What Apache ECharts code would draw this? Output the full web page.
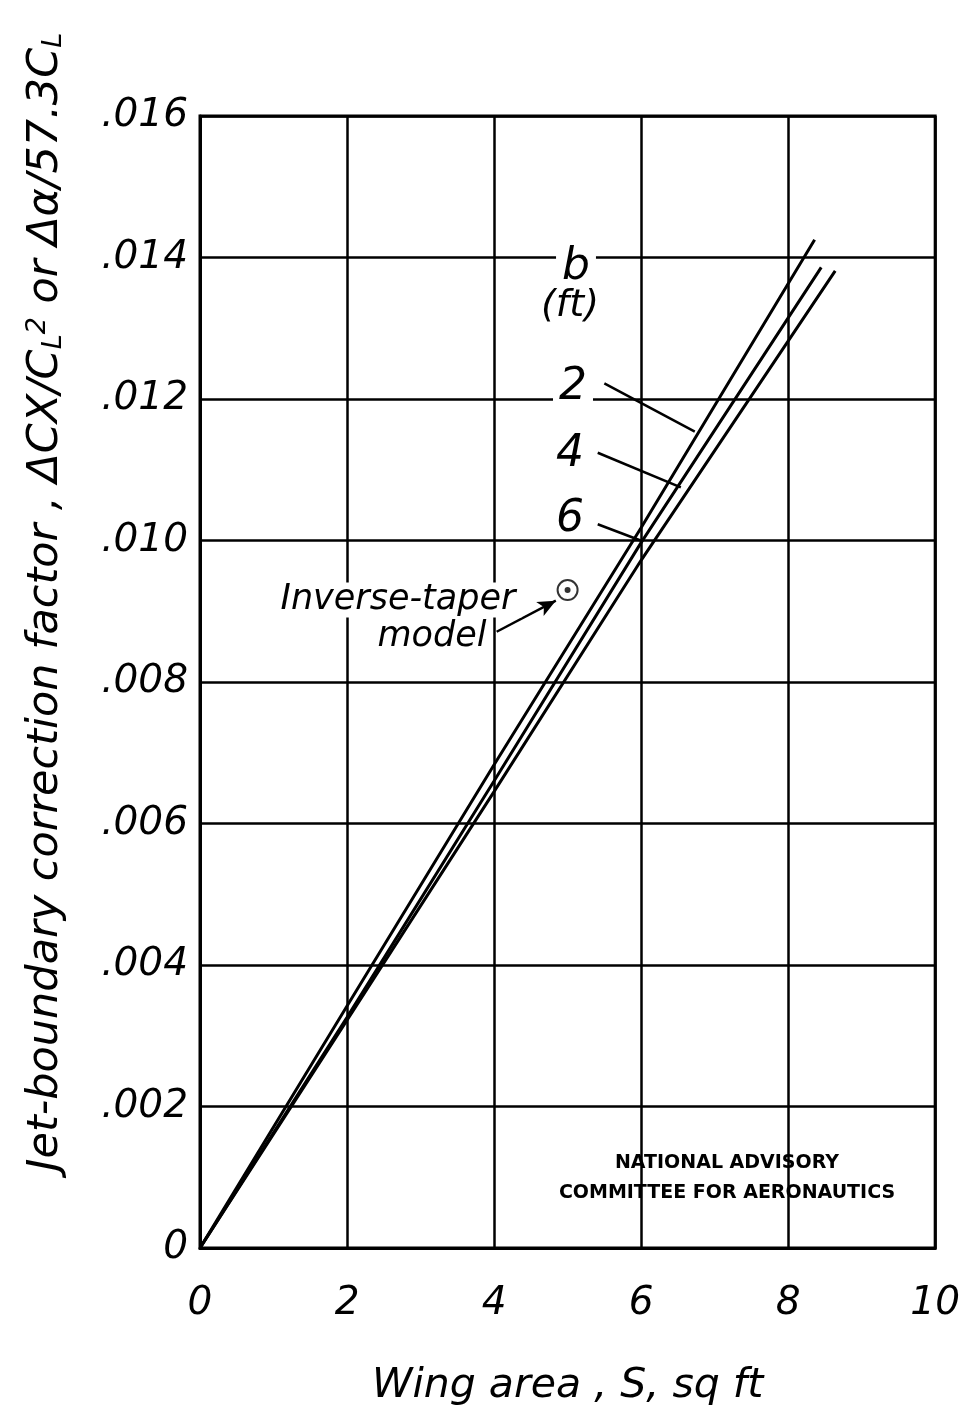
<!DOCTYPE html>
<html><head><meta charset="utf-8">
<script src="https://cdn.jsdelivr.net/npm/echarts@6/dist/echarts.min.js"></script>
<style>html,body{margin:0;padding:0;background:#fff}#c{width:963px;height:1414px}</style>
</head><body><div id="c"></div>
<script>
// Data
const xTicks = [0, 2, 4, 6, 8, 10];
const yTicks = [0, 0.002, 0.004, 0.006, 0.008, 0.010, 0.012, 0.014, 0.016];
const spanLabels = ['2', '4', '6'];
const curveB2 = [[0, 0], [2, 0.00342], [4, 0.00683], [6, 0.01018], [8.36, 0.01425]];
const curveB4 = [[0, 0], [2, 0.00326], [4, 0.00660], [6, 0.00997], [8.45, 0.01386]];
const curveB6 = [[0, 0], [2, 0.00322], [4, 0.00645], [6, 0.00972], [8.64, 0.01381]];
const inverseTaper = [[5.0, 0.0093]];
const leader2 = [[5.50, 0.01222], [6.73, 0.01154]];
const leader4 = [[5.41, 0.01124], [6.54, 0.01075]];
const leader6 = [[5.41, 0.01023], [6.02, 0.00999]];
const arrowFrom = [4.035, 0.00871];
const arrowTo = [4.84, 0.00915];

const FONT = 'DejaVu Sans';
const chart = echarts.init(document.getElementById('c'));
const lineS = (data, w) => ({type: 'line', data, symbol: 'none', silent: true,
  lineStyle: {color: '#000', width: w || 3}, z: 5});

chart.setOption({
  backgroundColor: '#fff',
  animation: false,
  grid: {left: 200, right: 27, top: 116, bottom: 166, show: true, borderColor: '#000', borderWidth: 3},
  xAxis: {type: 'value', min: 0, max: 10, interval: 2,
    axisLine: {show: true, lineStyle: {color: '#000', width: 3}},
    axisTick: {show: false},
    splitLine: {show: true, lineStyle: {color: '#000', width: 2.5}},
    axisLabel: {margin: 36, color: '#000', fontFamily: FONT, fontStyle: 'italic', fontSize: 39,
      formatter: v => xTicks.indexOf(v) >= 0 ? String(v) : ''},
    name: 'Wing area , S, sq ft', nameLocation: 'middle', nameGap: 118,
    nameTextStyle: {color: '#000', fontFamily: FONT, fontStyle: 'italic', fontSize: 41}
  },
  yAxis: {type: 'value', min: 0, max: 0.016, interval: 0.002,
    axisLine: {show: true, lineStyle: {color: '#000', width: 3}},
    axisTick: {show: false},
    splitLine: {show: true, lineStyle: {color: '#000', width: 2.5}},
    axisLabel: {margin: 12, color: '#000', fontFamily: FONT, fontStyle: 'italic', fontSize: 39,
      formatter: v => {
        const t = yTicks.find(k => Math.abs(k - v) < 1e-9);
        if (t === undefined) return '';
        return t === 0 ? '0' : t.toFixed(3).replace(/^0/, '');
      }}
  },
  series: [
    lineS(curveB2), lineS(curveB4), lineS(curveB6),
    lineS(leader2, 2.5), lineS(leader4, 2.5), lineS(leader6, 2.5),
    {type: 'scatter', data: inverseTaper, symbol: 'emptyCircle', symbolSize: 20, silent: true,
      itemStyle: {color: '#000', borderColor: '#000', borderWidth: 2.5}, z: 6},
    {type: 'scatter', data: inverseTaper, symbol: 'circle', symbolSize: 6, silent: true,
      itemStyle: {color: '#000'}, z: 7},
    {type: 'line', data: [], silent: true,
      markLine: {silent: true, symbol: ['none', 'arrow'], symbolSize: [12, 18], label: {show: false},
        lineStyle: {color: '#000', width: 2.5, type: 'solid', curveness: -0.25},
        data: [[{coord: arrowFrom}, {coord: arrowTo}]]}}
  ]
});

const txt = (x, y, text, size, extra) => Object.assign({type: 'text', x, y, z: 20,
  style: Object.assign({text, font: 'italic ' + size + 'px "' + FONT + '"', fill: '#000',
    align: 'center', verticalAlign: 'middle'}, extra || {})});
const bg = {backgroundColor: '#fff', padding: [0, 6]};

chart.setOption({graphic: [
  {type: 'text', x: 46, y: 602, rotation: Math.PI / 2, z: 20,
    style: {text: 'Jet-boundary correction factor , ΔCX/C{sub|L}{sup|2} or Δα/57.3C{sub|L}',
      font: 'italic 43px "' + FONT + '"', fill: '#000', align: 'center', verticalAlign: 'middle',
      rich: {
        sub: {fontFamily: FONT, fontStyle: 'italic', fontSize: 27, verticalAlign: 'bottom', lineHeight: 26, fill: '#000'},
        sup: {fontFamily: FONT, fontStyle: 'italic', fontSize: 27, verticalAlign: 'top', lineHeight: 26, fill: '#000'}
      }}},
  txt(576, 268, 'b', 44, bg),
  txt(570, 306, '(ft)', 38, bg),
  txt(573, 388, spanLabels[0], 44, bg),
  txt(570, 455, spanLabels[1], 44),
  txt(570, 520, spanLabels[2], 44),
  txt(398, 600, 'Inverse-taper', 35, bg),
  txt(432, 637, 'model', 35),
  {type: 'text', x: 727, y: 1163, z: 20, style: {text: 'NATIONAL ADVISORY', font: 'bold 19px "' + FONT + '"',
    fill: '#000', align: 'center', verticalAlign: 'middle'}},
  {type: 'text', x: 727, y: 1193, z: 20, style: {text: 'COMMITTEE FOR AERONAUTICS', font: 'bold 19px "' + FONT + '"',
    fill: '#000', align: 'center', verticalAlign: 'middle'}}
]});
</script></body></html>
